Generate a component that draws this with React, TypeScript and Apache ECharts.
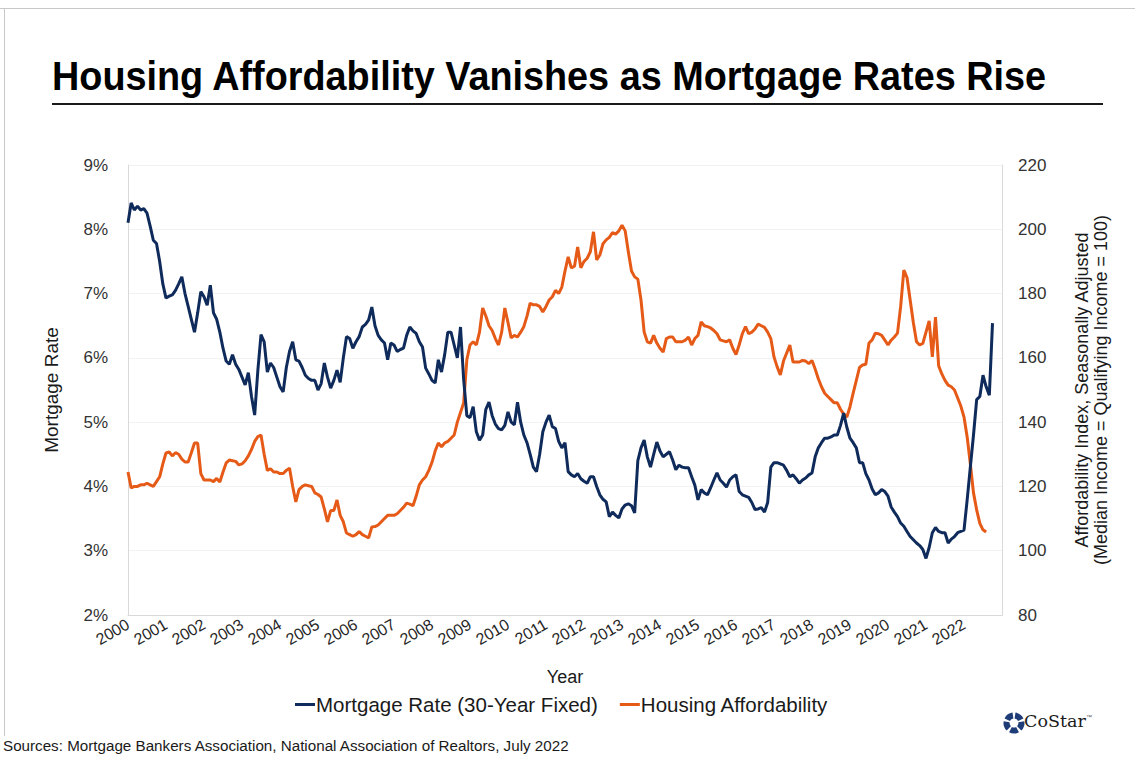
import React, { useEffect, useRef } from "react";
import * as echarts from "echarts";

// Monthly observations, starting January 2000
const START_YEAR = 2000;

const yearTicks = [2000, 2001, 2002, 2003, 2004, 2005, 2006, 2007, 2008, 2009, 2010, 2011, 2012, 2013, 2014, 2015, 2016, 2017, 2018, 2019, 2020, 2021, 2022];

// Mortgage Rate (30-Year Fixed), %
const mortgageRate = [
  // 2000
  8.1, 8.41, 8.3, 8.36, 8.3, 8.32, 8.25, 8.05, 7.83, 7.78, 7.5, 7.15,
  // 2001
  6.93, 6.96, 6.98, 7.05, 7.15, 7.26, 7.0, 6.8, 6.6, 6.4, 6.7, 7.03,
  // 2002
  6.95, 6.82, 7.13, 6.7, 6.6, 6.4, 6.15, 5.95, 5.9, 6.05, 5.9, 5.82,
  // 2003
  5.7, 5.58, 5.77, 5.4, 5.11, 5.8, 6.36, 6.25, 5.78, 5.92, 5.85, 5.7,
  // 2004
  5.55, 5.47, 5.85, 6.1, 6.25, 5.97, 5.95, 5.85, 5.73, 5.68, 5.65, 5.65,
  // 2005
  5.5, 5.6, 5.92, 5.7, 5.53, 5.65, 5.81, 5.62, 6.0, 6.33, 6.3, 6.15,
  // 2006
  6.25, 6.33, 6.48, 6.52, 6.59, 6.79, 6.5, 6.35, 6.28, 6.23, 5.97, 6.23,
  // 2007
  6.2, 6.1, 6.13, 6.15, 6.35, 6.48, 6.42, 6.38, 6.25, 6.17, 5.84, 5.75,
  // 2008
  5.65, 5.61, 5.97, 5.78, 6.05, 6.4, 6.4, 6.2, 6.0, 6.48, 5.66, 5.1,
  // 2009
  5.07, 5.24, 4.85, 4.72, 4.8, 5.2, 5.31, 5.1, 4.97, 4.9, 4.88, 4.95,
  // 2010
  5.16, 5.0, 4.96, 5.31, 5.0, 4.8, 4.68, 4.5, 4.3, 4.23, 4.5, 4.85,
  // 2011
  5.0, 5.11, 4.93, 4.9, 4.7, 4.6, 4.68, 4.23, 4.18, 4.15, 4.2, 4.12,
  // 2012
  4.08, 4.05, 4.15, 4.15, 4.0, 3.87, 3.8, 3.76, 3.53, 3.6, 3.55, 3.51,
  // 2013
  3.65, 3.71, 3.73, 3.7, 3.59, 4.4, 4.6, 4.72, 4.46, 4.3, 4.5, 4.69,
  // 2014
  4.55, 4.46, 4.5, 4.54, 4.41, 4.26, 4.33, 4.3, 4.29, 4.29, 4.15, 4.02,
  // 2015
  3.79, 3.95, 3.9, 3.87, 3.98, 4.1, 4.21, 4.1, 4.05, 3.99, 4.1, 4.15,
  // 2016
  4.18, 3.92, 3.87, 3.85, 3.83, 3.75, 3.64, 3.65, 3.67, 3.6, 3.75, 4.3,
  // 2017
  4.37, 4.37, 4.35, 4.33, 4.25, 4.15, 4.18, 4.12, 4.05, 4.1, 4.13, 4.18,
  // 2018
  4.21, 4.46, 4.6, 4.68, 4.75, 4.75, 4.77, 4.8, 4.8, 4.95, 5.14, 4.92,
  // 2019
  4.75, 4.68, 4.6, 4.37, 4.37, 4.2, 4.1, 3.96, 3.87, 3.9, 3.95, 3.92,
  // 2020
  3.85, 3.68, 3.6, 3.53, 3.43, 3.38, 3.3, 3.22, 3.17, 3.12, 3.08, 3.02,
  // 2021
  2.88, 3.05, 3.28, 3.36, 3.3, 3.28, 3.28, 3.12, 3.18, 3.22, 3.28, 3.3,
  // 2022
  3.32, 3.79, 4.3, 4.8, 5.35, 5.4, 5.73, 5.55, 5.42, 6.54,
];

// Housing Affordability Index, seasonally adjusted
const affordability = [
  // 2000
  124.5, 119.5, 120, 120, 120.5, 120.5, 121, 120.5, 120, 121.5, 123, 127,
  // 2001
  130.4, 130.7, 129.5, 130.5, 130, 128.5, 127.6, 127.6, 130.5, 133.5, 133.5, 124,
  // 2002
  122, 122, 122, 121.5, 122.5, 121.4, 124.5, 127.3, 128.2, 128, 127.8, 126.7,
  // 2003
  127, 128, 129.5, 131.5, 134, 135.5, 136, 130, 125, 125.5, 124.5, 124.5,
  // 2004
  124, 124, 125, 125.7, 120, 115.2, 119, 120, 120.5, 120.2, 120, 118,
  // 2005
  117.5, 116.7, 113, 109, 112.5, 112.5, 115.8, 111, 109, 105.5, 105, 104.5,
  // 2006
  105, 106, 105, 104.5, 104, 107.4, 107.5, 108, 109, 110, 111, 111,
  // 2007
  111, 111.5, 112.5, 113.5, 114.8, 114.5, 114, 117, 120.5, 122, 123, 125,
  // 2008
  127.5, 131, 133.5, 132.3, 133.5, 134, 135, 136, 140, 143, 146, 159.4,
  // 2009
  164, 165, 164, 168, 175.5, 173, 170, 168.5, 166, 164, 168, 175.5,
  // 2010
  171, 166.2, 167, 166.5, 168, 169.7, 173, 177, 176.5, 176.5, 176, 174.3,
  // 2011
  176, 178, 179, 181, 180, 182, 187, 191.4, 188, 188.5, 194.5, 188,
  // 2012
  190, 191, 193, 199.2, 190.5, 192, 195.5, 196.7, 197.5, 199, 198.5, 199.5,
  // 2013
  201.3, 199.5, 193, 187, 185.2, 184.5, 178, 168, 165, 164.6, 167, 164.6,
  // 2014
  163, 161.8, 166, 166.5, 166.5, 165, 165, 165, 165.5, 166.5, 164, 166,
  // 2015
  167, 171.2, 170, 169.7, 169.3, 168.5, 167.5, 165.6, 165.3, 165, 165.6, 163,
  // 2016
  161, 164, 167.5, 169.7, 167.5, 168, 169, 170.5, 170, 169.5, 168, 166,
  // 2017
  160.3, 157.2, 154.7, 159, 161.5, 164, 158.7, 158.7, 158.7, 159.2, 159, 158.2,
  // 2018
  159.2, 156.5, 153.5, 151, 149, 148, 147, 146, 146, 144, 142.5, 141.6,
  // 2019
  144.8, 149, 153, 157, 157.8, 158, 164.6, 165.6, 167.7, 167.5, 167, 165.5,
  // 2020
  164, 165.5, 166.5, 167.7, 176, 187.3, 185, 178, 171, 165, 164, 164.5,
  // 2021
  168, 171.5, 160.3, 172.7, 157.5, 155, 153, 151.5, 151, 150, 147.5, 145,
  // 2022
  141.6, 135.4, 127, 118, 112.7, 108.5, 106.5, 105.8,
];

const SERIES_NAMES = ["Mortgage Rate (30-Year Fixed)", "Housing Affordability"];
const LEFT_AXIS_NAME = "Mortgage Rate";
const RIGHT_AXIS_NAME = "Affordability Index, Seasonally Adjusted\n(Median Income = Qualifying Income = 100)";
const TITLE = "Housing Affordability Vanishes as Mortgage Rates Rise";
const SOURCE = "Sources: Mortgage Bankers Association, National Association of Realtors, July 2022";

const BLUE = "#0f2b5b";
const ORANGE = "#e65a17";
const SANS = "'Liberation Sans', Arial, sans-serif";

const toPairs = (arr: number[]) => arr.map((v, i) => [START_YEAR + i / 12, v]);

export default function App() {
  const ref = useRef<HTMLDivElement>(null);

  useEffect(() => {
    if (!ref.current) return;
    const chart = echarts.init(ref.current, null, { renderer: "svg" });

    const logoCx = 1014;
    const logoCy = 723;
    const logoPieces = [0, 1, 2, 3, 4].map((k) => ({
      type: "sector",
      shape: {
        cx: logoCx,
        cy: logoCy,
        r0: 4.5,
        r: 10.5,
        startAngle: ((k * 72 - 90 + 8) * Math.PI) / 180,
        endAngle: ((k * 72 - 90 + 64) * Math.PI) / 180,
      },
      style: { fill: "#1d3c78" },
      silent: true,
    }));

    const option = {
      animation: false,
      backgroundColor: "#ffffff",
      textStyle: { fontFamily: SANS },
      grid: { left: 128, right: 133, top: 165, bottom: 142, containLabel: false },
      legend: {
        data: SERIES_NAMES,
        left: 290,
        top: 689,
        icon: "rect",
        itemWidth: 20,
        itemHeight: 3,
        itemGap: 22,
        textStyle: { fontFamily: SANS, fontSize: 20.5, color: "#1a1a1a", padding: [0, 0, 0, -4] },
      },
      xAxis: {
        type: "value",
        min: yearTicks[0],
        max: yearTicks[yearTicks.length - 1] + 1,
        interval: 1,
        axisLine: { show: true, lineStyle: { color: "#d9d9d9", width: 1 } },
        axisTick: { show: false },
        splitLine: { show: false },
        axisLabel: {
          rotate: 30,
          fontSize: 16,
          color: "#262626",
          margin: 8,
          showMaxLabel: false,
          formatter: (v: number) => (yearTicks.indexOf(v) >= 0 ? String(v) : ""),
        },
        name: "Year",
        nameLocation: "middle",
        nameGap: 53,
        nameTextStyle: { fontSize: 18, color: "#1a1a1a" },
      },
      yAxis: [
        {
          type: "value",
          min: 2,
          max: 9,
          interval: 1,
          position: "left",
          axisLine: { show: true, lineStyle: { color: "#d9d9d9", width: 1 } },
          axisTick: { show: false },
          splitLine: { show: true, lineStyle: { color: "#f2f2f2", width: 1 } },
          axisLabel: { formatter: "{value}%", fontSize: 17, color: "#333333", margin: 20 },
          name: LEFT_AXIS_NAME,
          nameLocation: "middle",
          nameGap: 67,
          nameTextStyle: { fontSize: 19, color: "#1a1a1a" },
        },
        {
          type: "value",
          min: 80,
          max: 220,
          interval: 20,
          position: "right",
          axisLine: { show: true, lineStyle: { color: "#d9d9d9", width: 1 } },
          axisTick: { show: false },
          splitLine: { show: false },
          axisLabel: { fontSize: 17, color: "#333333", margin: 16 },
          name: RIGHT_AXIS_NAME,
          nameLocation: "middle",
          nameGap: 70,
          nameTextStyle: { fontSize: 18, color: "#1a1a1a", lineHeight: 19 },
        },
      ],
      series: [
        {
          name: SERIES_NAMES[0],
          type: "line",
          yAxisIndex: 0,
          data: toPairs(mortgageRate),
          showSymbol: false,
          symbol: "none",
          lineStyle: { color: BLUE, width: 3 },
          itemStyle: { color: BLUE },
          z: 3,
        },
        {
          name: SERIES_NAMES[1],
          type: "line",
          yAxisIndex: 1,
          data: toPairs(affordability),
          showSymbol: false,
          symbol: "none",
          lineStyle: { color: ORANGE, width: 3 },
          itemStyle: { color: ORANGE },
          z: 2,
        },
      ],
      graphic: [
        { type: "line", shape: { x1: 0, y1: 8.5, x2: 1135, y2: 8.5 }, style: { stroke: "#c8c8c8", lineWidth: 1 }, silent: true },
        { type: "line", shape: { x1: 4.5, y1: 8, x2: 4.5, y2: 736 }, style: { stroke: "#c8c8c8", lineWidth: 1 }, silent: true },
        {
          type: "text",
          x: 52,
          y: 56,
          scaleX: 0.945,
          style: { text: TITLE, fontFamily: SANS, fontWeight: "bold", fontSize: 40, fill: "#000000" },
          silent: true,
        },
        { type: "line", shape: { x1: 52, y1: 104, x2: 1103, y2: 104 }, style: { stroke: "#1a1a1a", lineWidth: 2 }, silent: true },
        {
          type: "text",
          left: 3,
          top: 738,
          style: { text: SOURCE, fontFamily: SANS, fontSize: 15.2, fill: "#1a1a1a" },
          silent: true,
        },
        ...logoPieces,
        {
          type: "text",
          left: 1024,
          top: 712,
          style: { text: "CoStar", fontFamily: "'DejaVu Serif', serif", fontSize: 17.5, fill: "#1a1a1a" },
          silent: true,
        },
        {
          type: "text",
          left: 1086,
          top: 714,
          style: { text: "™", fontFamily: SANS, fontSize: 6, fill: "#555555" },
          silent: true,
        },
      ],
    };

    chart.setOption(option as any);
    return () => chart.dispose();
  }, []);

  return (
    <div
      ref={ref}
      style={{ position: "fixed", left: 0, top: 0, width: 1135, height: 757, background: "#ffffff" }}
    />
  );
}
